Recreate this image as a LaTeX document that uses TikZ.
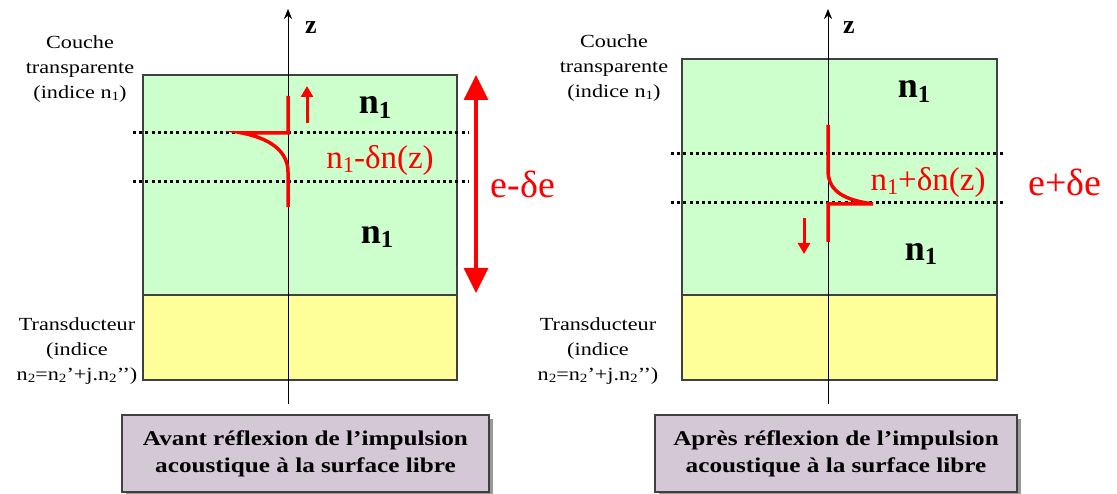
\documentclass[tikz,border=0pt]{standalone}
\usepackage{fontspec}
\setmainfont{Liberation Serif}
\newfontfamily\widefont[FakeStretch=1.2]{Liberation Serif}
\usetikzlibrary{arrows.meta,shadows}
\definecolor{couche}{RGB}{204,255,204}
\definecolor{transd}{RGB}{255,255,153}
\definecolor{cadre}{RGB}{212,200,214}
\definecolor{bord}{RGB}{64,64,64}
\newcommand{\bas}[1]{\raisebox{-0.3ex}{\scalebox{0.68}{#1}}}
\tikzset{
  layer/.style={draw=bord, line width=1.5pt},
  niveau/.style={line width=3pt, dash pattern=on 3pt off 3.2pt},
  profil/.style={red, line width=3.5pt},
  petite/.style={red, line width=3pt, -{Triangle[width=12pt,length=11pt]}},
  side/.style={align=center, font=\widefont\fontsize{18.5}{25}\selectfont},
  indice/.style={font=\bfseries\fontsize{36}{36}\selectfont},
  rouge/.style={red, font=\fontsize{33}{33}\selectfont},
  ecart/.style={red, font=\fontsize{38}{38}\selectfont},
  legende/.style={draw=bord, line width=1.5pt, fill=cadre, minimum height=77pt,
    align=center, font=\widefont\bfseries\fontsize{21}{27}\selectfont,
    drop shadow={shadow xshift=4pt, shadow yshift=-4pt, fill=gray!80, opacity=1}},
}

\begin{document}
\begin{tikzpicture}[x=1pt, y=-1pt]
  \useasboundingbox (0,0) rectangle (1117,494);

  % avant reflexion
  \filldraw[layer, fill=couche] (143,75) rectangle (457,295);
  \filldraw[layer, fill=transd] (143,295) rectangle (457,380);
  \draw[-{Stealth[length=10pt,width=8pt]}] (288,404) -- (288,9);
  \node[font=\bfseries\fontsize{26}{26}\selectfont] (zL) at (311,28) {z};
  \foreach \y in {133,182} \draw[niveau] (133,\y) -- (468,\y);
  \draw[profil] (288,96) -- (288,133) -- (242,133)
    .. controls (268,138) and (288,150) .. (288,172) -- (288,207);
  \draw[petite] (307,123) -- (307,86);
  \draw[red, line width=3.5pt, {Triangle[width=24pt,length=25pt]}-{Triangle[width=24pt,length=25pt]}]
    (476,75) -- (476,293);
  \node[indice] (n1hautL) at (375,108) {n\bas{1}};
  \node[indice] (n1basL) at (377,237) {n\bas{1}};
  \node[rouge] (dnL) at (380,160) {n\bas{1}-δn(z)};
  \node[ecart] (eL) at (523,184) {e-δe};
  \node[side] (coucheL) at (80,69) {Couche\\transparente\\(indice n\bas{1})};
  \node[side] (transL) at (77,351) {Transducteur\\(indice\\n\bas{2}=n\bas{2}’+j.n\bas{2}’’)};
  \node[legende, minimum width=367pt] (avant) at (305.5,453.5)
    {Avant réflexion de l’impulsion\\acoustique à la surface libre};

  % apres reflexion
  \filldraw[layer, fill=couche] (682,59) rectangle (997,295);
  \filldraw[layer, fill=transd] (682,295) rectangle (997,380);
  \draw[-{Stealth[length=10pt,width=8pt]}] (828,404) -- (828,9);
  \node[font=\bfseries\fontsize{26}{26}\selectfont] (zR) at (849,28) {z};
  \foreach \y in {154,203} \draw[niveau] (671,\y) -- (1005,\y);
  \draw[profil] (828,125) -- (828,172)
    .. controls (829,192) and (845,200) .. (873,204) -- (828,204) -- (828,242);
  \draw[petite] (804,218) -- (804,254);
  \node[indice] (n1hautR) at (914,92) {n\bas{1}};
  \node[indice] (n1basR) at (921,254) {n\bas{1}};
  \node[rouge] (dnR) at (928,182) {n\bas{1}+δn(z)};
  \node[ecart] (eR) at (1065,182) {e+δe};
  \node[side] (coucheR) at (614,68) {Couche\\transparente\\(indice n\bas{1})};
  \node[side] (transR) at (598,351) {Transducteur\\(indice\\n\bas{2}=n\bas{2}’+j.n\bas{2}’’)};
  \node[legende, minimum width=362pt] (apres) at (836,453.5)
    {Après réflexion de l’impulsion\\acoustique à la surface libre};
\end{tikzpicture}
\end{document}
